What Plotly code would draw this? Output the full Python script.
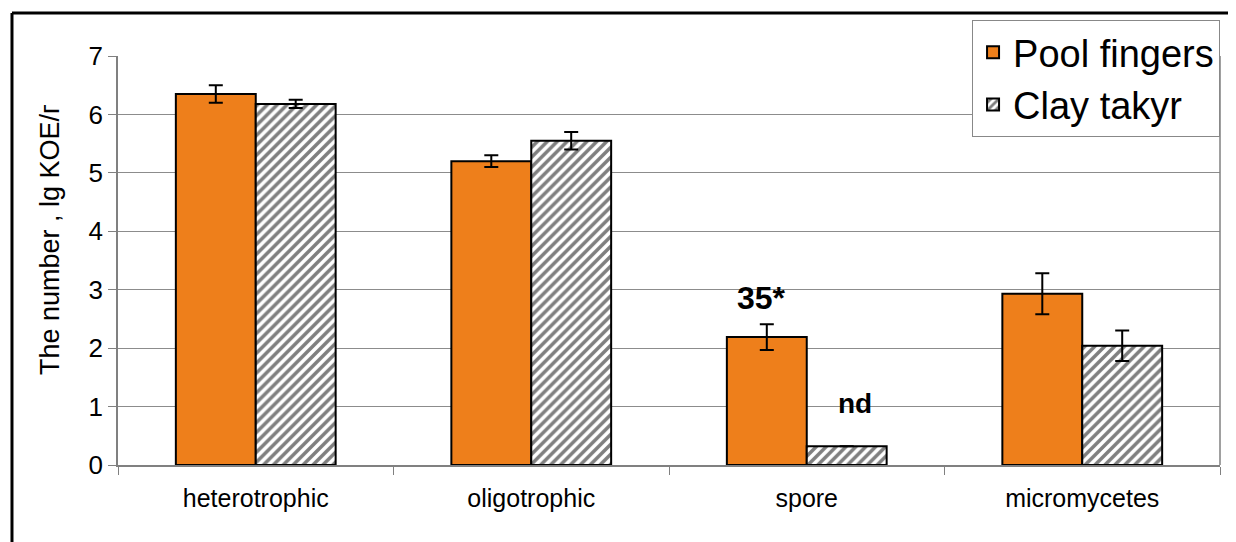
import plotly.graph_objects as go

categories = ["heterotrophic", "oligotrophic", "spore", "micromycetes"]
pool_values = [6.35, 5.2, 2.19, 2.93]
pool_errors = [0.15, 0.1, 0.22, 0.35]
clay_values = [6.18, 5.55, 0.32, 2.04]
clay_errors = [0.07, 0.15, None, 0.26]
y_ticks = [0, 1, 2, 3, 4, 5, 6, 7]

FONT = "Liberation Sans"

fig = go.Figure()
fig.add_trace(go.Bar(
    name="Pool fingers", x=categories, y=pool_values,
    marker=dict(color="#EE7F1B", line=dict(color="black", width=2)),
    error_y=dict(type="data", array=pool_errors, color="black", thickness=2, width=7),
))
fig.add_trace(go.Bar(
    name="Clay takyr", x=categories, y=clay_values,
    marker=dict(color="white", line=dict(color="black", width=2),
                pattern=dict(shape="/", fgcolor="black", bgcolor="white", size=7, solidity=0.5)),
    error_y=dict(type="data", array=[e if e is not None else 0 for e in clay_errors],
                 color="black", thickness=2, width=7),
))

fig.add_annotation(x="spore", xshift=-45, y=2.86, text="<b>35*</b>", showarrow=False,
                   font=dict(size=32, color="black", family=FONT))
fig.add_annotation(x="spore", xshift=48, y=1.06, text="<b>nd</b>", showarrow=False,
                   font=dict(size=28, color="black", family=FONT))

# y-axis title
fig.add_annotation(xref="paper", yref="paper", x=-0.0617, y=0.55, text="The number , lg KOE/г",
                   textangle=-90, showarrow=False, xanchor="center", yanchor="middle",
                   font=dict(size=27, color="black", family=FONT))

# outer frame
fig.add_shape(type="line", xref="paper", yref="paper", x0=-0.0962, x1=1.2, y0=1.105, y1=1.105,
              line=dict(color="black", width=3))
fig.add_shape(type="line", xref="paper", yref="paper", x0=-0.0962, x1=-0.0962, y0=-0.3, y1=1.105,
              line=dict(color="black", width=3))

fig.update_layout(
    width=1228, height=534,
    margin=dict(l=110, r=16, t=48, b=77),
    paper_bgcolor="white", plot_bgcolor="white",
    barmode="group", bargap=0.42, bargroupgap=0,
    font=dict(family=FONT, color="black"),
    showlegend=True,
    legend=dict(x=0.775, y=1.088, xanchor="left", yanchor="top",
                bgcolor="white", bordercolor="#888888", borderwidth=1,
                font=dict(size=38, family=FONT, color="black"),
                tracegroupgap=4, itemwidth=30),
    xaxis=dict(showline=True, linecolor="#808080", linewidth=1.5,
               ticks="outside", tickson="boundaries", ticklen=8, tickcolor="#808080",
               tickfont=dict(size=25, family=FONT), ticklabelstandoff=10,
               showgrid=False),
    yaxis=dict(range=[0, 7], tickvals=y_ticks, showgrid=True, gridcolor="#8c8c8c", gridwidth=1,
               showline=True, linecolor="#808080", linewidth=1.5,
               ticks="outside", ticklen=8, tickcolor="#808080",
               tickfont=dict(size=26, family=FONT),
               zeroline=False),
)
fig.add_shape(type="line", xref="paper", yref="paper", x0=1, x1=1, y0=0, y1=1,
              line=dict(color="#808080", width=1.5))

fig.write_html("out.html")
